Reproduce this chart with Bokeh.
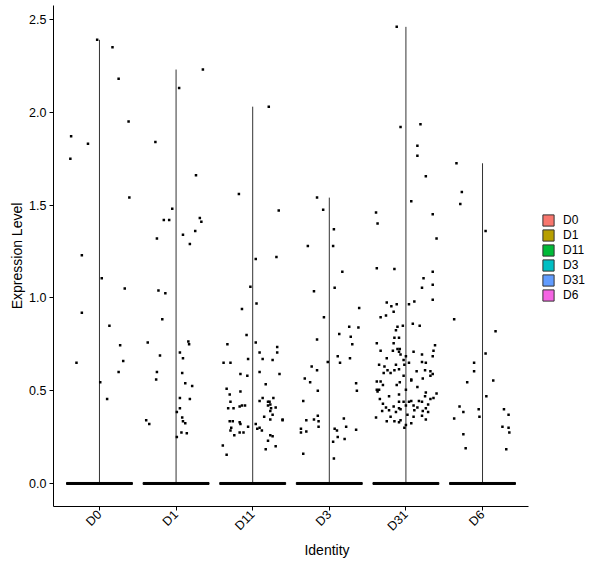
from bokeh.plotting import figure
from bokeh.models import (ColumnDataSource, Range1d, FixedTicker, Legend, LegendItem,
                          NumeralTickFormatter)
from bokeh.embed import file_html
from bokeh.resources import INLINE
from math import pi

# identities and their ggplot hues
categories = ["D0", "D1", "D11", "D3", "D31", "D6"]
colors = ["#F8766D", "#B79F00", "#00BA38", "#00BFC4", "#619CFF", "#F564E3"]
y_ticks = [0.0, 0.5, 1.0, 1.5, 2.0, 2.5]

# non-zero cells per identity: jitter offset from the category centre, expression value
d0_jit = [-0.03, 0.17, 0.25, 0.38, -0.37, -0.15, -0.38, 0.39, -0.23, 0.03, 0.33, -0.23,
          0.13, 0.27, 0.31, -0.30, 0.25, 0.01, 0.10]
d0_expr = [2.39, 2.35, 2.18, 1.95, 1.87, 1.83, 1.75, 1.54, 1.23, 1.105, 1.05, 0.92,
           0.85, 0.745, 0.66, 0.65, 0.60, 0.545, 0.455]

d1_jit = [0.35, 0.04, -0.27, 0.26, -0.05, -0.16, -0.09, 0.31, 0.33, 0.25, -0.25, 0.09,
          0.18, -0.23, -0.14, -0.18, -0.37, 0.16, 0.17, 0.05, -0.21, 0.09, -0.25, 0.08,
          -0.26, 0.12, 0.21, 0.05, 0.18, 0.05, 0.01, 0.08, -0.39, -0.35, 0.09, 0.12,
          0.07, 0.14, 0.01]
d1_expr = [2.23, 2.13, 1.84, 1.66, 1.48, 1.42, 1.42, 1.43, 1.41, 1.36, 1.32, 1.34,
           1.29, 1.04, 1.025, 0.885, 0.76, 0.765, 0.75, 0.705, 0.69, 0.675, 0.60, 0.595,
           0.56, 0.54, 0.525, 0.46, 0.455, 0.405, 0.385, 0.355, 0.34, 0.32, 0.335, 0.325,
           0.275, 0.27, 0.25]

d11_jit = [0.21, -0.18, 0.34, 0.04, 0.31, -0.03, 0.05, -0.14, -0.08, -0.33, 0.04, 0.32,
           0.32, 0.09, -0.06, 0.13, 0.26, -0.38, -0.29, 0.09, -0.16, -0.07, 0.35, 0.17,
           -0.34, -0.16, -0.30, -0.29, 0.09, 0.13, 0.27, 0.20, 0.22, 0.20, 0.23, -0.14,
           -0.10, -0.17, -0.32, -0.25, 0.30, 0.24, 0.23, 0.26, 0.15, 0.23, 0.39, 0.39,
           -0.30, -0.26, -0.17, -0.16, 0.04, -0.06, -0.28, 0.09, 0.06, 0.12, -0.29, -0.17,
           -0.12, -0.24, 0.23, 0.26, 0.20, -0.39, 0.30, 0.17, -0.34]
d11_expr = [2.03, 1.56, 1.47, 1.21, 1.22, 1.06, 0.97, 0.94, 0.80, 0.75, 0.76, 0.735,
            0.705, 0.705, 0.67, 0.67, 0.665, 0.65, 0.65, 0.60, 0.59, 0.58, 0.59, 0.535,
            0.51, 0.495, 0.48, 0.44, 0.445, 0.46, 0.46, 0.44, 0.44, 0.42, 0.425, 0.42,
            0.42, 0.415, 0.405, 0.405, 0.41, 0.405, 0.39, 0.37, 0.36, 0.345, 0.345, 0.34,
            0.335, 0.335, 0.33, 0.32, 0.32, 0.305, 0.30, 0.30, 0.295, 0.285, 0.285, 0.275,
            0.275, 0.26, 0.26, 0.255, 0.23, 0.205, 0.20, 0.185, 0.155]

d3_jit = [-0.16, -0.08, 0.06, -0.28, 0.05, 0.17, -0.20, 0.07, 0.39, -0.07, 0.26, 0.38,
          0.13, 0.28, -0.16, 0.30, 0.11, 0.27, -0.02, 0.14, -0.23, -0.16, -0.32, -0.25,
          0.35, -0.15, 0.36, -0.34, -0.15, 0.19, -0.30, -0.20, -0.14, -0.14, 0.22, -0.37,
          0.07, 0.35, 0.10, -0.37, -0.30, 0.11, 0.20, 0.05, -0.34, 0.06]
d3_expr = [1.54, 1.475, 1.37, 1.28, 1.28, 1.14, 1.035, 1.055, 0.945, 0.895, 0.845, 0.84,
           0.805, 0.79, 0.775, 0.75, 0.685, 0.675, 0.655, 0.65, 0.63, 0.61, 0.565, 0.545,
           0.54, 0.50, 0.50, 0.445, 0.365, 0.35, 0.34, 0.345, 0.335, 0.305, 0.305, 0.295,
           0.295, 0.29, 0.285, 0.275, 0.28, 0.25, 0.24, 0.225, 0.16, 0.135]

d31_jit = [-0.12, -0.07, 0.19, 0.15, 0.15, 0.26, 0.07, -0.39, 0.35, -0.37, 0.40, -0.38,
           -0.15, 0.35, 0.23, 0.35, 0.21, 0.35, 0.11, -0.25, -0.12, 0.04, -0.19, -0.16,
           -0.26, -0.33, 0.09, 0.18, -0.04, -0.11, -0.13, -0.15, -0.09, -0.38, -0.16, 0.38,
           -0.11, -0.08, -0.33, -0.17, -0.09, 0.10, 0.36, -0.07, 0.21, 0.00, 0.35, -0.25,
           -0.03, 0.21, 0.26, 0.04, -0.35, -0.13, -0.02, -0.28, -0.09, -0.15, -0.24, 0.14,
           0.25, 0.32, -0.29, -0.20, 0.35, 0.32, -0.03, 0.22, 0.07, -0.38, -0.33, -0.08,
           0.07, -0.30, -0.12, 0.15, -0.38, -0.35, -0.37, 0.00, 0.26, 0.40, -0.22, -0.09,
           0.25, 0.36, 0.32, -0.34, -0.03, 0.04, 0.07, 0.17, 0.21, -0.09, -0.30, 0.29,
           0.10, 0.00, -0.16, -0.26, 0.15, 0.26, -0.09, -0.07, -0.22, 0.11, 0.22, -0.31,
           -0.13, 0.29, 0.02, 0.21, -0.20, 0.10, -0.39, 0.26, -0.25, -0.15, -0.09, -0.07,
           0.07, 0.00, -0.02]
d31_expr = [2.46, 1.92, 1.935, 1.82, 1.765, 1.655, 1.52, 1.46, 1.45, 1.40, 1.32, 1.16,
            1.155, 1.14, 1.105, 1.07, 1.055, 0.99, 0.98, 0.975, 0.965, 0.965, 0.955, 0.925,
            0.905, 0.895, 0.86, 0.85, 0.85, 0.845, 0.825, 0.785, 0.785, 0.755, 0.755, 0.745,
            0.725, 0.725, 0.715, 0.715, 0.71, 0.71, 0.715, 0.695, 0.695, 0.685, 0.685, 0.675,
            0.665, 0.655, 0.65, 0.65, 0.64, 0.64, 0.64, 0.63, 0.615, 0.61, 0.61, 0.605,
            0.61, 0.605, 0.595, 0.595, 0.59, 0.58, 0.58, 0.565, 0.56, 0.55, 0.55, 0.545,
            0.555, 0.53, 0.53, 0.52, 0.505, 0.505, 0.495, 0.505, 0.49, 0.485, 0.47, 0.48,
            0.47, 0.46, 0.455, 0.455, 0.44, 0.44, 0.445, 0.445, 0.44, 0.44, 0.43, 0.425,
            0.42, 0.42, 0.415, 0.41, 0.41, 0.405, 0.405, 0.40, 0.395, 0.395, 0.39, 0.39,
            0.385, 0.385, 0.37, 0.365, 0.36, 0.36, 0.355, 0.345, 0.335, 0.335, 0.33, 0.34,
            0.325, 0.315, 0.30]

d6_jit = [-0.34, -0.27, -0.29, 0.04, -0.37, 0.17, 0.04, -0.11, -0.11, 0.14, -0.20, 0.05,
          -0.30, -0.05, 0.28, -0.25, 0.34, -0.37, -0.04, 0.26, 0.34, 0.35, -0.25, -0.22, 0.31]
d6_expr = [1.725, 1.57, 1.505, 1.36, 0.885, 0.82, 0.70, 0.65, 0.605, 0.555, 0.545, 0.47,
           0.415, 0.40, 0.40, 0.385, 0.37, 0.35, 0.36, 0.305, 0.30, 0.275, 0.265, 0.19, 0.185]

jitters = [d0_jit, d1_jit, d11_jit, d3_jit, d31_jit, d6_jit]
exprs = [d0_expr, d1_expr, d11_expr, d3_expr, d31_expr, d6_expr]

FONT = "Liberation Sans"

# the frame runs on to the right edge so the legend sits inside it; the x axis is bounded
p = figure(width=600, height=568, x_range=Range1d(0.4, 7.54), y_range=Range1d(-0.124, 2.575),
           output_backend="svg", toolbar_location=None,
           min_border_left=53, min_border_top=5, min_border_bottom=62, min_border_right=0,
           x_axis_label="Identity", y_axis_label="Expression Level")

centres = list(range(1, len(categories) + 1))

# violins: a thin stem up to the max value and a wide base at zero
p.segment(x0=centres, y0=[0] * len(centres), x1=centres, y1=[max(e) for e in exprs],
          line_color="#333333", line_width=1)
p.rect(x=centres, y=[0] * len(centres), width=0.86, height=2, height_units="screen",
       fill_color="black", line_color="black", line_width=1)

# jittered cells
px, py = [], []
for c, jit, ex in zip(centres, jitters, exprs):
    px += [c + j for j in jit]
    py += ex
src = ColumnDataSource(data=dict(x=px, y=py))
p.scatter("x", "y", source=src, marker="square", size=2.5, fill_color="black", line_color=None)

# legend swatches (no data, only shown in the legend)
items = []
for name, col in zip(categories, colors):
    r = p.quad(left=[float("nan")], right=[float("nan")], top=[float("nan")],
               bottom=[float("nan")], fill_color=col, line_color="#333333")
    items.append(LegendItem(label=name, renderers=[r]))
legend = Legend(items=items, location=(488, 204), glyph_width=14, glyph_height=14,
                label_height=14, spacing=1, padding=0, margin=0, label_standoff=8,
                border_line_color=None, background_fill_alpha=0,
                label_text_font=FONT, label_text_font_size="12px", label_text_color="black")
p.add_layout(legend)

p.xgrid.grid_line_color = None
p.ygrid.grid_line_color = None
p.outline_line_color = None

p.xaxis.bounds = (0.4, 6.6)
p.xaxis.ticker = FixedTicker(ticks=centres)
p.xaxis.major_label_overrides = {c: n for c, n in zip(centres, categories)}
p.xaxis.major_label_orientation = pi / 4
p.yaxis.ticker = FixedTicker(ticks=y_ticks)
p.yaxis.formatter = NumeralTickFormatter(format="0.0")

for ax in (p.xaxis, p.yaxis):
    ax.axis_line_color = "black"
    ax.major_tick_line_color = "black"
    ax.major_tick_out = 4
    ax.major_tick_in = 0
    ax.minor_tick_line_color = None
    ax.major_label_text_font = FONT
    ax.major_label_text_font_size = "12.5px"
    ax.major_label_text_color = "black"
    ax.axis_label_text_font = FONT
    ax.axis_label_text_font_size = "14px"
    ax.axis_label_text_font_style = "normal"
    ax.axis_label_text_color = "black"
p.yaxis.major_label_standoff = 3
p.xaxis.major_label_standoff = 2
p.xaxis.axis_label_standoff = 0
p.yaxis.axis_label_standoff = 1

open("out.html", "w").write(file_html(p, INLINE))
